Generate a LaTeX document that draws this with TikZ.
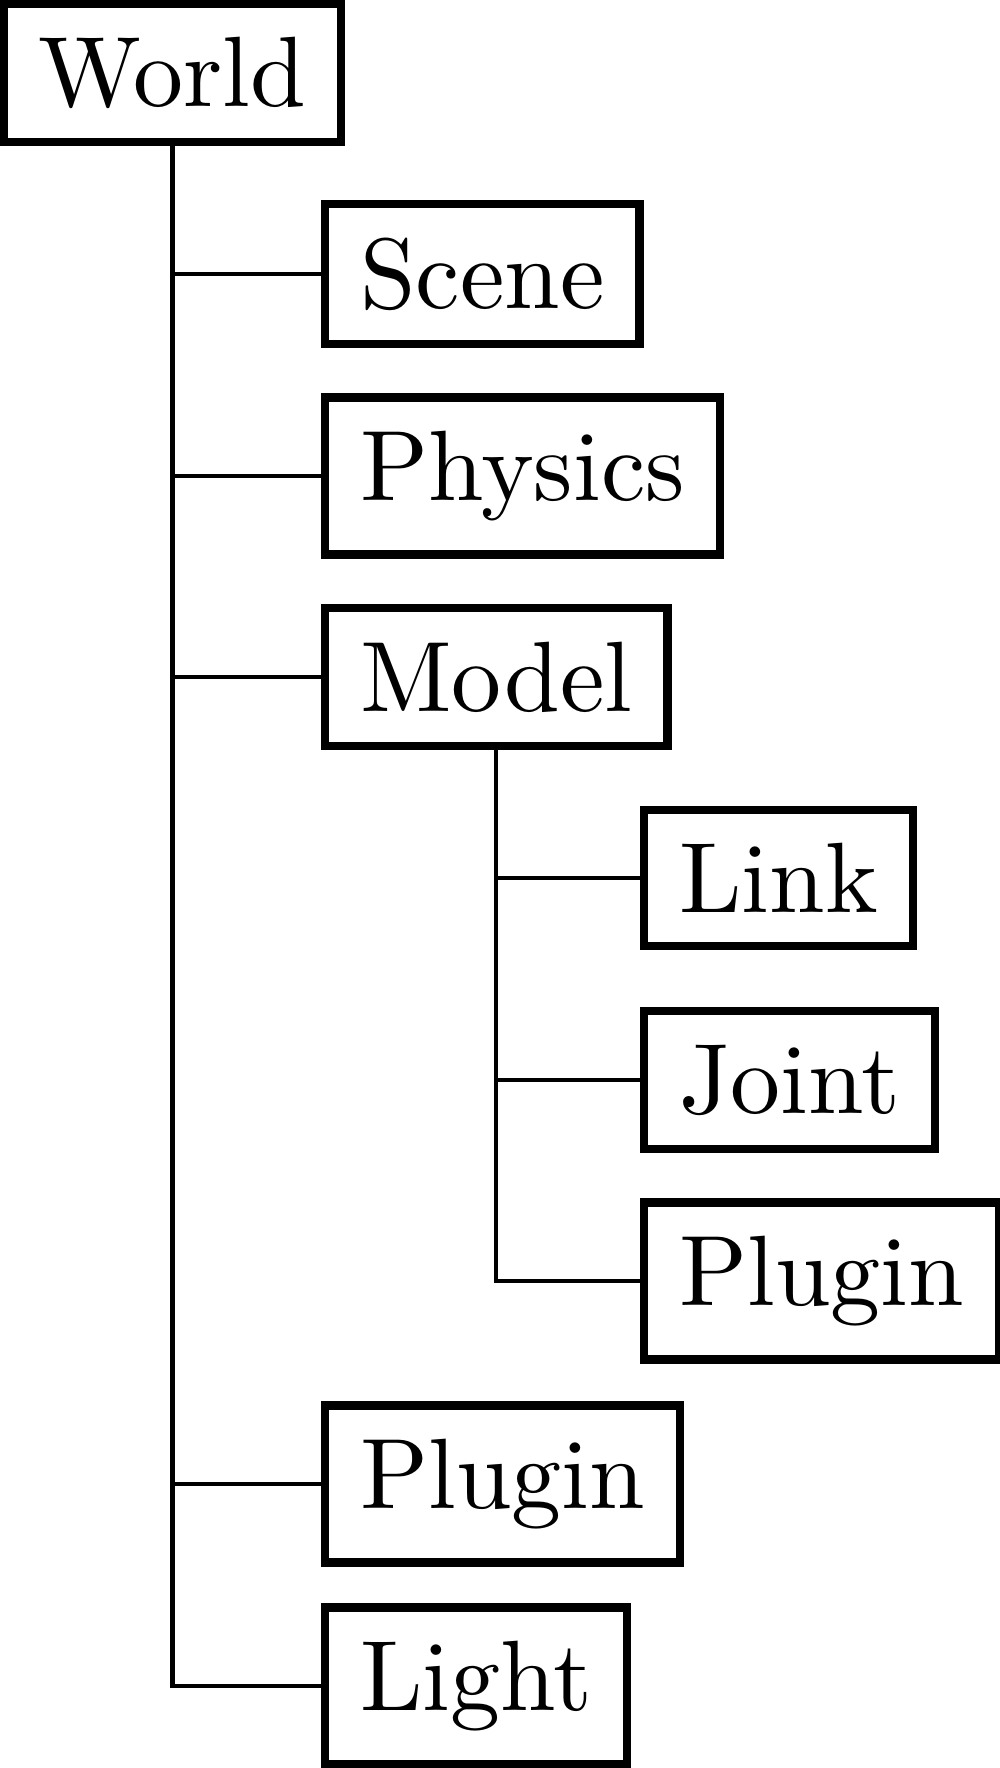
\documentclass[tikz,border=0pt]{standalone}
\begin{document}
\begin{tikzpicture}[x=0.1pt,y=-0.1pt,
  box/.style={draw, line width=0.83pt, inner xsep=3.5pt, inner ysep=3.35pt, font=\normalsize},
  edge/.style={draw, line width=0.43pt}]
\useasboundingbox (0,0) rectangle (1000,1768);
\node[box] (world) at (172.5,73) {World};
\node[box, anchor=west] (scene) at (321,274) {Scene};
\node[box, anchor=west] (physics) at (321,476) {Physics};
\node[box, anchor=west] (model) at (321,677) {Model};
\node[box, anchor=west] (link) at (640,878) {Link};
\node[box, anchor=west] (joint) at (640,1080) {Joint};
\node[box, anchor=west] (mplugin) at (640,1281) {Plugin};
\node[box, anchor=west] (wplugin) at (321,1484) {Plugin};
\node[box, anchor=west] (light) at (321,1686) {Light};
\draw[edge] (world.south) |- (light.west);
\draw[edge] (world.south |- scene.west) -- (scene.west);
\draw[edge] (world.south |- physics.west) -- (physics.west);
\draw[edge] (world.south |- model.west) -- (model.west);
\draw[edge] (world.south |- wplugin.west) -- (wplugin.west);
\draw[edge] (model.south) |- (mplugin.west);
\draw[edge] (model.south |- link.west) -- (link.west);
\draw[edge] (model.south |- joint.west) -- (joint.west);
\end{tikzpicture}
\end{document}
